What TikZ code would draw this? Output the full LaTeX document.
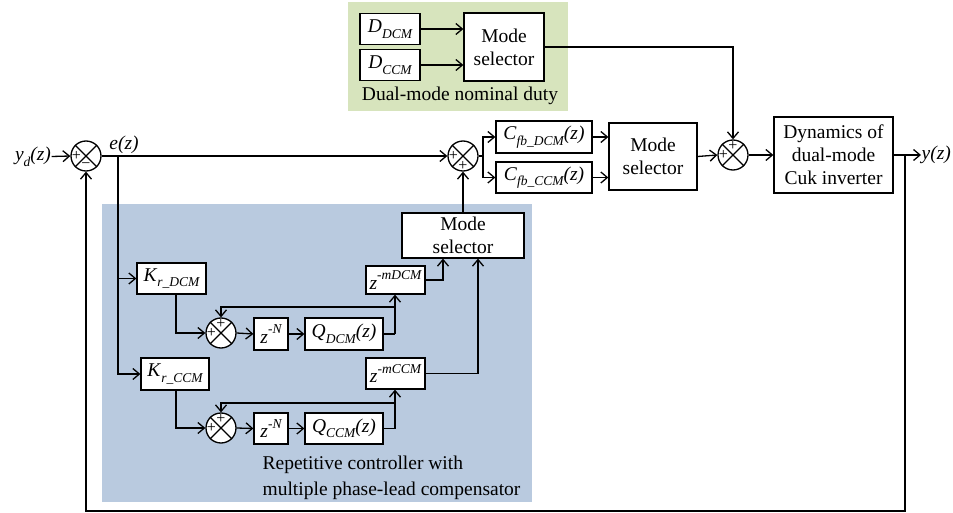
\documentclass[tikz,border=0pt]{standalone}
\usepackage{fontspec}
\setmainfont{Liberation Serif}
\usetikzlibrary{arrows.meta}
\definecolor{grn}{RGB}{215,228,189}
\definecolor{blu}{RGB}{185,202,223}
\newcommand\sbs[1]{\raisebox{-0.28em}{\fontsize{13.5}{13.5}\selectfont\itshape #1}}
\newcommand\sps[1]{\raisebox{0.5em}{\fontsize{13.5}{13.5}\selectfont\itshape #1}}
\begin{document}
\begin{tikzpicture}[x=1pt,y=-1pt, line width=1.3pt,
 >={Straight Barb[length=6.5pt,width=11pt]},
 blk/.style={draw, fill=white, inner sep=0pt, font=\fontsize{19.5}{23}\selectfont, align=center},
 sumj/.style={draw, circle, minimum size=30pt, inner sep=0pt, fill=white},
 sgn/.style={font=\fontsize{16}{16}\selectfont, inner sep=0pt},
 lbl/.style={font=\fontsize{19.5}{23}\selectfont\itshape, inner sep=0pt},
 txt/.style={font=\fontsize{19.5}{26}\selectfont, inner sep=0pt, align=left}]
\useasboundingbox (0,0) rectangle (953,513);
% backgrounds
\fill[grn] (348,2) rectangle (568,111);
\fill[blu] (102,204) rectangle (532,502);
\node[txt] (gl) at (460,96) {Dual-mode nominal duty};
\node[txt, anchor=west] (bl) at (262,478) {Repetitive controller with\\multiple phase-lead compensator};
% top group
\node[blk, minimum width=60pt, minimum height=31pt] (DD) at (390,29) {\textit{D}\sbs{DCM}};
\node[blk, minimum width=60pt, minimum height=31pt] (DC) at (390,65) {\textit{D}\sbs{CCM}};
\node[blk, minimum width=80pt, minimum height=68pt] (MS1) at (504,47) {Mode\\selector};
% main row
\node[lbl] (yd) at (33,157) {y\sbs{d}(z)};
\node[lbl] (ez) at (124,145) {e(z)};
\node[sumj] (s1) at (86,156) {};
\node[sumj] (s2) at (463,156) {};
\node[sumj] (s3) at (733,155) {};
\node[blk, minimum width=96pt, minimum height=32pt] (CfbD) at (544,137) {\textit{C}\sbs{fb\_DCM}\textit{(z)}};
\node[blk, minimum width=96pt, minimum height=31pt] (CfbC) at (544,177.5) {\textit{C}\sbs{fb\_CCM}\textit{(z)}};
\node[blk, minimum width=88pt, minimum height=67pt] (MS2) at (653,156.5) {Mode\\selector};
\node[blk, minimum width=119pt, minimum height=76pt] (Dyn) at (833.5,155) {Dynamics of\\dual-mode\\Cuk inverter};
\node[lbl, anchor=west] (yz) at (921,155) {y(z)};
% repetitive controller
\node[blk, minimum width=122pt, minimum height=45pt] (MS3) at (463,235.5) {Mode\\selector};
\node[blk, minimum width=69pt, minimum height=31pt] (KD) at (171.5,278.5) {\textit{K}\sbs{r\_DCM}};
\node[blk, minimum width=59pt, minimum height=28pt] (zmD) at (395.5,280) {\textit{z}\sps{-mDCM}};
\node[sumj] (sD) at (221,333) {};
\node[blk, minimum width=34pt, minimum height=32pt] (zND) at (271,334) {\textit{z}\sps{-N}};
\node[blk, minimum width=78pt, minimum height=32pt] (QD) at (344,334) {\textit{Q}\sbs{DCM}\textit{(z)}};
\node[blk, minimum width=68pt, minimum height=32pt] (KC) at (175,374) {\textit{K}\sbs{r\_CCM}};
\node[blk, minimum width=59pt, minimum height=31pt] (zmC) at (395.5,373.5) {\textit{z}\sps{-mCCM}};
\node[sumj] (sC) at (221,428) {};
\node[blk, minimum width=34pt, minimum height=31pt] (zNC) at (271,428.5) {\textit{z}\sps{-N}};
\node[blk, minimum width=78pt, minimum height=31pt] (QC) at (344,428.5) {\textit{Q}\sbs{CCM}\textit{(z)}};
% summer crosses and signs
\foreach \s in {s1,s2,s3,sD,sC}{
  \draw (\s.north west)--(\s.south east) (\s.north east)--(\s.south west);}
\node[sgn] at ([shift={(-9.5,0)}]s1.center) {+};
\node[sgn] at ([shift={(0,9.5)}]s1.center) {−};
\node[sgn] at ([shift={(-9.5,0)}]s2.center) {+};
\node[sgn] at ([shift={(0,9.5)}]s2.center) {+};
\foreach \s in {s3,sD,sC}{
  \node[sgn] at ([shift={(-9.5,0)}]\s.center) {+};
  \node[sgn] at ([shift={(0,-9.5)}]\s.center) {+};}
% coordinates
\coordinate (br) at (118,156);
\coordinate (sp) at (483,156);
\coordinate (fb) at (905,155);
\coordinate (fbr) at (905,511);
\coordinate (jD) at (395,334);
\coordinate (lD) at (395,307);
\coordinate (jC) at (395,428.5);
\coordinate (lC) at (395,403);
% connectors
\draw[->] (yd) -- (s1.west);
\draw (s1.east) -- (br);
\draw[->] (br) -- (s2.west);
\draw[->] (br) |- (KD.west);
\draw[->] (br) |- (KC.west);
\draw (s2.east) -- (sp);
\draw[->] (sp) |- (CfbD.west);
\draw[->] (sp) |- (CfbC.west);
\draw[->] (CfbD.east) -- (CfbD.east -| MS2.west);
\draw[->] (CfbC.east) -- (CfbC.east -| MS2.west);
\draw[->] (MS2.east) -- (s3.west);
\draw[->] (s3.east) -- (Dyn.west);
\draw[->] (Dyn.east) -- (yz.west);
\draw[->] (DD.east) -- (DD.east -| MS1.west);
\draw[->] (DC.east) -- (DC.east -| MS1.west);
\draw[->] (MS1.east) -| (s3.north);
\draw[->] (fb) -- (fbr) -| (s1.south);
\draw[->] (MS3.north) -- (s2.south);
\draw[->] (zmD.east) -| ([xshift=-20pt]MS3.south);
\draw[<-] ([xshift=15pt]MS3.south) |- (zmC.east);
% DCM loop
\draw[->] ([xshift=4.5pt]KD.south) |- (sD.west);
\draw[->] (sD.east) -- (zND.west);
\draw[->] (zND.east) -- (QD.west);
\draw (QD.east) -- (jD);
\draw[->] (jD) -- (jD |- zmD.south);
\draw[->] (lD) -| (sD.north);
% CCM loop
\draw[->] ([xshift=1pt]KC.south) |- (sC.west);
\draw[->] (sC.east) -- (zNC.west);
\draw[->] (zNC.east) -- (QC.west);
\draw (QC.east) -- (jC);
\draw[->] (jC) -- (jC |- zmC.south);
\draw[->] (lC) -| (sC.north);
\end{tikzpicture}
\end{document}
